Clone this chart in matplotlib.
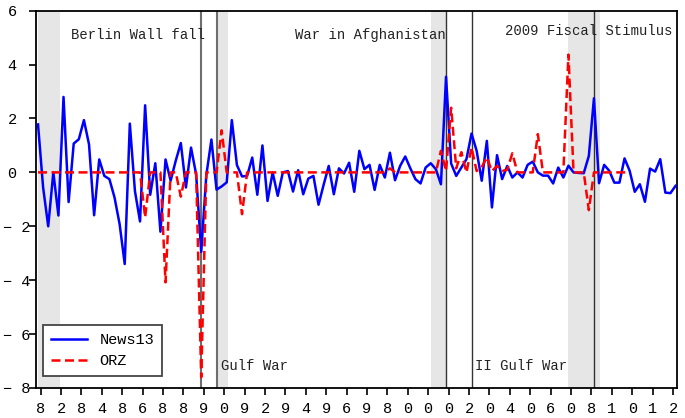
import matplotlib
matplotlib.use("Agg")
import matplotlib.pyplot as plt
from matplotlib.transforms import ScaledTranslation

plt.rcParams['font.family'] = ['Liberation Mono', 'DejaVu Sans Mono']

# quarterly observations, index 0 = first quarter shown
news13 = [1.78, -0.56, -2.0, 0.0, -1.6, 2.8, -1.1, 1.07, 1.23, 1.94,
          1.04, -1.59, 0.48, -0.13, -0.25, -0.93, -1.92, -3.4, 1.81, -0.69,
          -1.82, 2.49, -0.83, 0.34, -2.2, 0.48, -0.31, 0.43, 1.09, -0.56,
          0.92, -0.07, -2.95, -0.1, 1.22, -0.64, -0.52, -0.37, 1.94, 0.27,
          -0.15, -0.13, 0.55, -0.83, 1.0, -1.06, 0.0, -0.87, 0.0, 0.05,
          -0.71, 0.08, -0.81, -0.23, -0.13, -1.2, -0.46, 0.24, -0.81, 0.15,
          -0.04, 0.36, -0.72, 0.8, 0.12, 0.28, -0.65, 0.28, -0.19, 0.73,
          -0.29, 0.24, 0.59, 0.15, -0.25, -0.41, 0.18, 0.34, 0.12, -0.44,
          3.55, 0.33, -0.13, 0.18, 0.49, 1.44, 0.8, -0.31, 1.17, -1.3,
          0.64, -0.25, 0.24, -0.19, 0.0, -0.19, 0.28, 0.4, 0.0, -0.12,
          -0.12, -0.41, 0.18, -0.19, 0.25, 0.0, -0.02, -0.03, 0.61, 2.75,
          -0.4, 0.28, 0.06, -0.38, -0.38, 0.52, 0.06, -0.72, -0.44, -1.09,
          0.14, 0.03, 0.49, -0.75, -0.77, -0.5]

orz = [0, 0, 0, 0, 0, 0, 0, 0, 0, 0,
       0, 0, 0, 0, 0, 0, 0, 0, 0, 0,
       0, -1.67, 0, 0, 0, -4.08, 0, 0, -0.9, 0,
       0, 0, -7.6, 0, 0, 0, 1.56, 0, 0, 0,
       -1.55, 0, 0, 0, 0, 0, 0, 0, 0, 0,
       0, 0, 0, 0, 0, 0, 0, 0, 0, 0,
       0, 0, 0, 0, 0, 0, 0, 0, 0, 0.15,
       0, 0, 0, 0, 0, 0, 0, 0, 0, 0.8,
       0.05, 2.4, 0.15, 0.75, 0.0, 0.92, 0.05, 0.2, 0.56, 0.05,
       0.24, 0.05, 0.1, 0.71, 0, 0, 0, 0, 1.42, 0,
       0, 0, 0, 0, 4.37, 0, 0, 0, -1.4, 0,
       0, 0, 0, 0, 0, 0, 0]

# recession shading (start, end) in quarter index
recessions = [(0.0, 4.3), (35.0, 37.2), (77.0, 80.0), (104.0, 110.2)]
# event lines (quarter index)
events_grey = [32, 35]
events_dark = [80, 85, 109]

event_labels = ["Berlin Wall fall", "War in Afghanistan", "2009 Fiscal Stimulus",
                "Gulf War", "II Gulf War"]

xtick_labels = ["8", "2", "8", "4", "8", "6", "8", "8", "9", "0", "9", "2",
                "9", "4", "9", "6", "9", "8", "0", "0", "0", "2", "0", "4",
                "0", "6", "0", "8", "1", "0", "1", "2"]
ytick_values = [6, 4, 2, 0, -2, -4, -6, -8]
ytick_labels = ["6", "4", "2", "0", "\u2212 2", "\u2212 4", "\u2212 6", "\u2212 8"]

fig = plt.figure(figsize=(6.85, 4.18), dpi=100)
ax = fig.add_axes([0.0526, 0.0718, 0.9362, 0.9026])

for s, e in recessions:
    ax.axvspan(s, e, color='#e6e6e6', lw=0, zorder=0)
for v in events_grey:
    ax.axvline(v, color='#6e6e6e', lw=1.5, zorder=1)
for v in events_dark:
    ax.axvline(v, color='#333333', lw=1.0, zorder=1)

ax.plot(range(len(news13)), news13, color='#0000ff', lw=1.8, label='News13', zorder=3)
ax.plot(range(len(orz)), orz, color='#ff0000', lw=1.8, dashes=(3.6, 1.8),
        label='ORZ', zorder=4)

ax.set_xlim(-0.39, 125.35)
ax.set_ylim(-8, 6)

ax.set_xticks([0.5 + 4 * k for k in range(len(xtick_labels))])
ax.set_xticklabels(xtick_labels)
ax.set_yticks(ytick_values)
ax.set_yticklabels(ytick_labels)
ax.tick_params(axis='both', direction='out', length=5, width=1.2, labelsize=11,
               colors='black')
ax.tick_params(axis='x', pad=5)
ax.tick_params(axis='y', pad=9)

# negative y labels are drawn shifted toward the axis, as in the reference
off = ScaledTranslation(0.135, 0, fig.dpi_scale_trans)
for val, tick in zip(ytick_values, ax.yaxis.get_major_ticks()):
    if val < 0:
        tick.label1.set_transform(tick.label1.get_transform() + off)

for sp in ax.spines.values():
    sp.set_linewidth(1.3)
    sp.set_color('black')

tfont = dict(fontsize=10, color='#222222')
ax.text(32.8, 5.1, event_labels[0], ha='right', va='center', **tfont)
ax.text(80.0, 5.1, event_labels[1], ha='right', va='center', **tfont)
ax.text(124.4, 5.25, event_labels[2], ha='right', va='center', **tfont)
ax.text(35.9, -7.18, event_labels[3], ha='left', va='center', **tfont)
ax.text(85.7, -7.18, event_labels[4], ha='left', va='center', **tfont)

leg = ax.legend(loc='lower left', bbox_to_anchor=(0.011, 0.033), borderaxespad=0,
                fontsize=11, handlelength=2.4, fancybox=False, framealpha=1,
                edgecolor='#444444', borderpad=0.5, labelspacing=0.45)
leg.get_frame().set_linewidth(1.3)

fig.savefig('out.png', dpi=100)
